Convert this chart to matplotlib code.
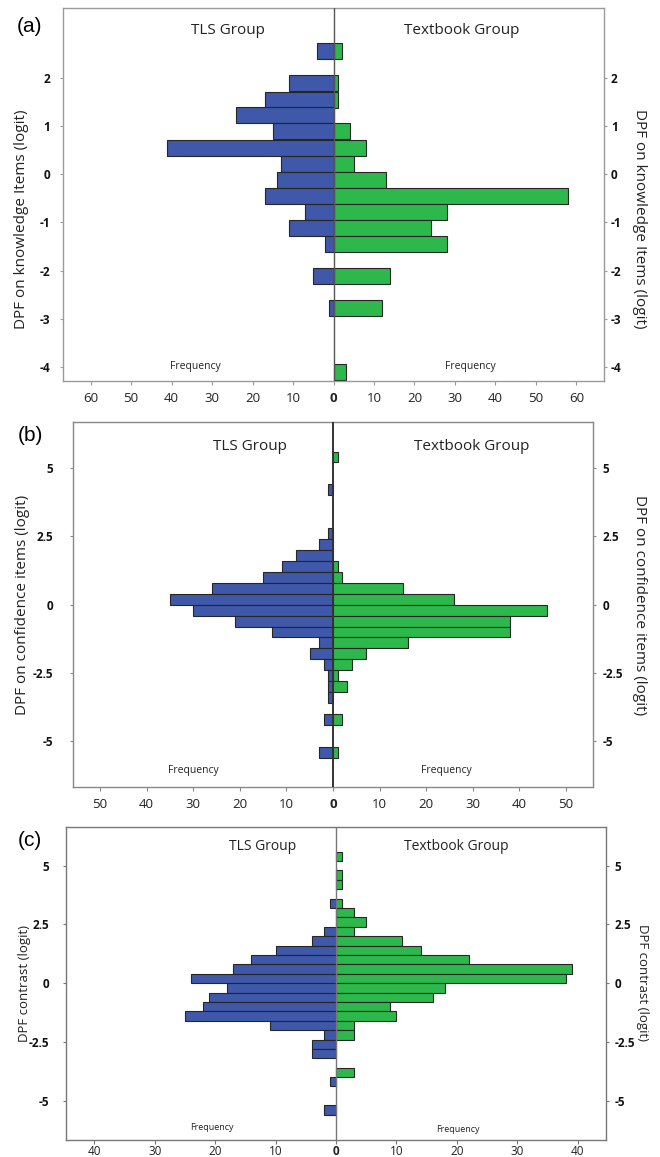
import matplotlib
matplotlib.use("Agg")
import matplotlib.pyplot as plt
import matplotlib.transforms as mt

# ---------------- data ----------------
# Panel (a): DPF on knowledge items (bin width 1/3 logit)
a_centers = [2.55, 1.89, 1.55, 1.22, 0.89, 0.55, 0.22, -0.11, -0.45, -0.78, -1.11, -1.45, -2.11, -2.78, -4.11]
a_tls = [4, 11, 17, 24, 15, 41, 13, 14, 17, 7, 11, 2, 5, 1, 0]
a_text = [2, 1, 1, 0, 4, 8, 5, 13, 58, 28, 24, 28, 14, 12, 3]
a_yticks = [2, 1, 0, -1, -2, -3, -4]
a_ylabels = ["2", "1", "0", "-1", "-2", "-3", "-4"]
a_xticks = [-60, -50, -40, -30, -20, -10, 0, 10, 20, 30, 40, 50, 60]

# Panel (b): DPF on confidence items (bin width 0.4 logit)
b_centers = [5.4, 4.2, 2.6, 2.2, 1.8, 1.4, 1.0, 0.6, 0.2, -0.2, -0.6, -1.0, -1.4, -1.8, -2.2, -2.6, -3.0, -3.4, -4.2, -5.4]
b_tls = [0, 1, 1, 3, 8, 11, 15, 26, 35, 30, 21, 13, 3, 5, 2, 1, 1, 1, 2, 3]
b_text = [1, 0, 0, 0, 0, 1, 2, 15, 26, 46, 38, 38, 16, 7, 4, 1, 3, 0, 2, 1]
b_yticks = [5, 2.5, 0, -2.5, -5]
b_ylabels = ["5", "2.5", "0", "-2.5", "-5"]
b_xticks = [-50, -40, -30, -20, -10, 0, 10, 20, 30, 40, 50]

# Panel (c): DPF contrast (bin width 0.4 logit)
c_centers = [5.4, 4.6, 4.2, 3.4, 3.0, 2.6, 2.2, 1.8, 1.4, 1.0, 0.6, 0.2, -0.2, -0.6, -1.0, -1.4, -1.8, -2.2, -2.6, -3.0, -3.8, -4.2, -5.4]
c_tls = [0, 0, 0, 1, 0, 0, 2, 4, 10, 14, 17, 24, 18, 21, 22, 25, 11, 2, 4, 4, 0, 1, 2]
c_text = [1, 1, 1, 1, 3, 5, 3, 11, 14, 22, 39, 38, 18, 16, 9, 10, 3, 3, 0, 0, 3, 0, 0]
c_yticks = [5, 2.5, 0, -2.5, -5]
c_ylabels = ["5", "2.5", "0", "-2.5", "-5"]
c_xticks = [-40, -30, -20, -10, 0, 10, 20, 30, 40]

group_left = "TLS Group"
group_right = "Textbook Group"
freq_label = "Frequency"

BLUE = "#3F58A9"
GREEN = "#2DB84B"
EDGE = "#262626"
FONT = ["Open Sans", "DejaVu Sans"]

W, H = 660, 1157
plt.rcParams['font.family'] = FONT
fig = plt.figure(figsize=(W / 100, H / 100), dpi=100)


def px_ax(x0, y0, x1, y1):
    return fig.add_axes([x0 / W, 1 - y1 / H, (x1 - x0) / W, (y1 - y0) / H])


def ftext(x, y, s, **kw):
    fig.text(x / W, 1 - y / H, s, ha='center', va='center', **kw)


def panel(ax, centers, tls, text, width, xlim, ylim, xticks, yticks, ylabels,
          spine_col, cline_col, cline_w, xpad, xfs, lpad, rpad):
    for c, v in zip(centers, tls):
        if v > 0:
            ax.barh(c, -v, height=width, color=BLUE, edgecolor=EDGE, linewidth=0.8)
    for c, v in zip(centers, text):
        if v > 0:
            ax.barh(c, v, height=width, color=GREEN, edgecolor=EDGE, linewidth=0.8)
    ax.axvline(0, color=cline_col, lw=cline_w, zorder=5)
    ax.set_xlim(-xlim, xlim)
    ax.set_ylim(*ylim)
    for s in ax.spines.values():
        s.set_color(spine_col)
        s.set_linewidth(1.0)
    ax.set_xticks(xticks, [str(abs(t)) for t in xticks], fontsize=xfs, color="#222222")
    for t, lbl in zip(xticks, ax.get_xticklabels()):
        if t == 0:
            lbl.set_fontweight('bold')
    ax.tick_params(axis='x', direction='out', length=3, width=0.8, color=spine_col, pad=xpad)
    ax.set_yticks(yticks, ylabels, fontsize=8.5, fontweight='bold', color="#111111")
    ax.tick_params(axis='y', which='both', left=True, right=True, labelleft=True, labelright=True,
                   direction='out', length=2, width=0.8, color=spine_col, pad=lpad)
    for tk in ax.yaxis.get_major_ticks():
        off = mt.ScaledTranslation((rpad - lpad) / 72.0, 0, fig.dpi_scale_trans)
        tk.label2.set_transform(tk.label2.get_transform() + off)


# ---------- panel (a) ----------
axa = px_ax(63, 8, 604, 381)
panel(axa, a_centers, a_tls, a_text, 1 / 3, 66.8, (-4.29, 3.45), a_xticks, a_yticks, a_ylabels,
      "#9a9a9a", "#555555", 1.0, 5, 9.5, 7, 3)

# ---------- panel (b) ----------
axb = px_ax(73, 422, 593, 787)
panel(axb, b_centers, b_tls, b_text, 0.4, 55.8, (-6.67, 6.68), b_xticks, b_yticks, b_ylabels,
      "#888888", "#333333", 1.4, 5, 9.5, 12, 5)

# ---------- panel (c) ----------
axc = px_ax(66, 827, 606, 1140)
panel(axc, c_centers, c_tls, c_text, 0.4, 44.7, (-6.68, 6.65), c_xticks, c_yticks, c_ylabels,
      "#777777", "#777777", 1.0, 0.5, 8.5, 10, 4)

# ---------- texts ----------
ftext(30, 27, "(a)", fontsize=15, family=["Liberation Sans", "DejaVu Sans"])
ftext(30, 435, "(b)", fontsize=15, family=["Liberation Sans", "DejaVu Sans"])
ftext(30, 840, "(c)", fontsize=15, family=["Liberation Sans", "DejaVu Sans"])

ftext(228, 30, group_left, fontsize=11, color="#222222")
ftext(462, 30, group_right, fontsize=11, color="#222222")
ftext(250, 447, group_left, fontsize=11, color="#222222")
ftext(472, 447, group_right, fontsize=11, color="#222222")
ftext(263, 847, group_left, fontsize=10, color="#222222")
ftext(456, 847, group_right, fontsize=10, color="#222222")

ftext(195, 367, freq_label, fontsize=7.5, color="#222222")
ftext(470, 367, freq_label, fontsize=7.5, color="#222222")
ftext(193, 770, freq_label, fontsize=7.5, color="#222222")
ftext(446, 770, freq_label, fontsize=7.5, color="#222222")
ftext(212, 1128, freq_label, fontsize=6.5, color="#222222")
ftext(458, 1129, freq_label, fontsize=6.5, color="#222222")

ftext(22, 219, "DPF on knowledge Items (logit)", fontsize=11, rotation=90, color="#222222")
ftext(640, 219, "DPF on knowledge Items (logit)", fontsize=11, rotation=270, color="#222222")
ftext(23, 605, "DPF on confidence items (logit)", fontsize=11, rotation=90, color="#222222")
ftext(640, 605, "DPF on confidence items (logit)", fontsize=11, rotation=270, color="#222222")
ftext(25, 983, "DPF contrast (logit)", fontsize=9.5, rotation=90, color="#222222")
ftext(642, 983, "DPF contrast (logit)", fontsize=9.5, rotation=270, color="#222222")

fig.savefig("out.png", dpi=100)
